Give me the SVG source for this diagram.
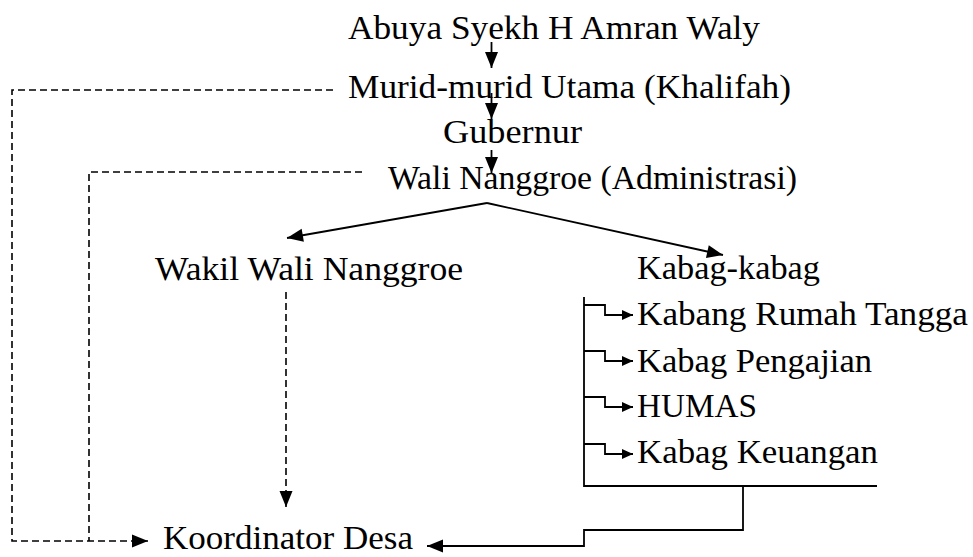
<svg xmlns="http://www.w3.org/2000/svg" width="973" height="557" viewBox="0 0 973 557">
  <style>
    text { font-family: "Liberation Serif", "Times New Roman", serif; font-size: 33px; fill: #000; }
    .solid { fill: none; stroke: #000; stroke-width: 1.8; }
    .dash { fill: none; stroke: #000; stroke-width: 1.6; stroke-dasharray: 7 4; }
  </style>
  <defs>
    <marker id="arr" markerUnits="userSpaceOnUse" markerWidth="18" markerHeight="14" refX="16" refY="6.5" orient="auto" overflow="visible">
      <path d="M0,0 L16,6.5 L0,13 z" fill="#000"/>
    </marker>
    <marker id="arrS" markerUnits="userSpaceOnUse" markerWidth="12" markerHeight="11" refX="11" refY="5" orient="auto" overflow="visible">
      <path d="M0,0 L11,5 L0,10 z" fill="#000"/>
    </marker>
  </defs>
  <rect width="973" height="557" fill="#fff"/>

  <g id="connectors">
    <!-- main vertical chain -->
    <line class="solid" x1="491.5" y1="42" x2="491.5" y2="68" marker-end="url(#arr)"/>
    <line class="solid" x1="491.5" y1="93" x2="491.5" y2="119" marker-end="url(#arr)"/>
    <line class="solid" x1="491.5" y1="150" x2="491.5" y2="173" marker-end="url(#arr)"/>
    <!-- split from Wali Nanggroe -->
    <line class="solid" x1="487" y1="203" x2="287" y2="238" marker-end="url(#arr)"/>
    <line class="solid" x1="487" y1="203" x2="723" y2="255" marker-end="url(#arr)"/>
    <!-- Kabag bracket -->
    <polyline class="solid" points="584,297 584,486 877,486"/>
    <polyline class="solid" points="584,305 605,305 605,315 633,315" marker-end="url(#arrS)"/>
    <polyline class="solid" points="584,351 605,351 605,361 633,361" marker-end="url(#arrS)"/>
    <polyline class="solid" points="584,397 605,397 605,407 633,407" marker-end="url(#arrS)"/>
    <polyline class="solid" points="584,444 605,444 605,454 633,454" marker-end="url(#arrS)"/>
    <!-- from Kabag bracket to Koordinator Desa -->
    <polyline class="solid" points="743,486 743,530 584,530 584,546 427,546" marker-end="url(#arr)"/>
    <!-- dashed lines -->
    <polyline class="dash" points="333,90 12,90 12,541 148,541" marker-end="url(#arr)"/>
    <polyline class="dash" points="362,172 89,172 89,541"/>
    <line class="dash" x1="286" y1="292" x2="286" y2="507" marker-end="url(#arr)"/>
  </g>

  <g id="node-abuya"><text x="348" y="39" textLength="412" lengthAdjust="spacingAndGlyphs">Abuya Syekh H Amran Waly</text></g>
  <g id="node-murid"><text x="348" y="98" textLength="443" lengthAdjust="spacingAndGlyphs">Murid-murid Utama (Khalifah)</text></g>
  <g id="node-gubernur"><text x="443" y="143" textLength="139" lengthAdjust="spacingAndGlyphs">Gubernur</text></g>
  <g id="node-wali"><text x="388" y="189" textLength="409" lengthAdjust="spacingAndGlyphs">Wali Nanggroe (Administrasi)</text></g>
  <g id="node-wakil"><text x="155" y="280" textLength="308" lengthAdjust="spacingAndGlyphs">Wakil Wali Nanggroe</text></g>
  <g id="node-kabag"><text x="637" y="279" textLength="183" lengthAdjust="spacingAndGlyphs">Kabag-kabag</text></g>
  <g id="node-rumah-tangga"><text x="637" y="325" textLength="331" lengthAdjust="spacingAndGlyphs">Kabang Rumah Tangga</text></g>
  <g id="node-pengajian"><text x="637" y="372" textLength="235" lengthAdjust="spacingAndGlyphs">Kabag Pengajian</text></g>
  <g id="node-humas"><text x="637" y="417" textLength="120" lengthAdjust="spacingAndGlyphs">HUMAS</text></g>
  <g id="node-keuangan"><text x="637" y="463" textLength="241" lengthAdjust="spacingAndGlyphs">Kabag Keuangan</text></g>
  <g id="node-koordinator"><text x="163" y="549" textLength="250" lengthAdjust="spacingAndGlyphs">Koordinator Desa</text></g>
</svg>
